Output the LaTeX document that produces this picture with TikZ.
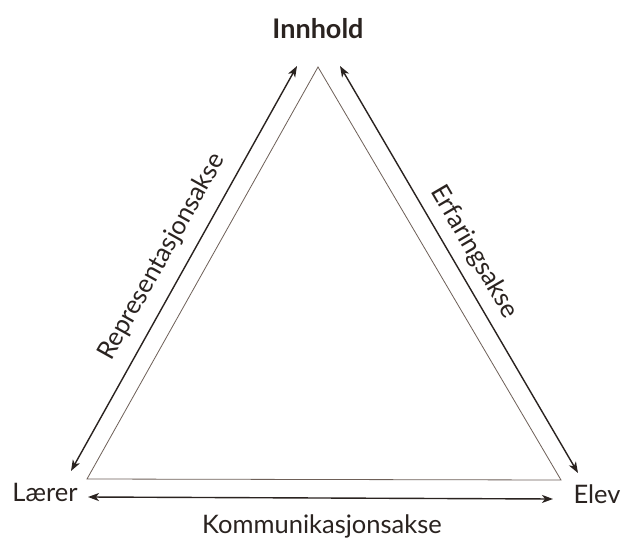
\documentclass[tikz,border=0pt]{standalone}
\usepackage{fontspec}
\setmainfont{Lato}
\usetikzlibrary{arrows.meta}
\definecolor{ink}{HTML}{2A2320}
\definecolor{tri}{HTML}{6E6058}
\begin{document}
\begin{tikzpicture}[x=1pt,y=-1pt,
  lbl/.style={text=ink,inner sep=0pt,font=\fontsize{25.5}{28}\selectfont},
  axis/.style={draw=ink,line width=1.4pt,{Stealth[length=11pt,width=8pt,inset=3pt]}-{Stealth[length=11pt,width=8pt,inset=3pt]}},
  triline/.style={draw=tri,line width=0.8pt}]
\useasboundingbox (0,0) rectangle (622,541);
\fill[white] (0,0) rectangle (622,541);
% triangle
\coordinate (T) at (318,67);
\coordinate (L) at (87,479);
\coordinate (R) at (561,480);
\draw[triline] (T) -- (L) -- (R) -- cycle;
% axis end points
\coordinate (la) at (297,66);
\coordinate (lb) at (71,471);
\coordinate (ra) at (340,66);
\coordinate (rb) at (578,473);
\coordinate (ba) at (88,497);
\coordinate (bb) at (553,499);
\draw[axis] (la) -- (lb);
\draw[axis] (ra) -- (rb);
\draw[axis] (ba) -- (bb);
% labels
\node[lbl,font=\fontsize{27}{30}\selectfont\bfseries] (inn) at (318,29) {Innhold};
\node[lbl] (lar) at (45,492) {Lærer};
\node[lbl] (elev) at (597,494) {Elev};
\node[lbl] (kom) at (322,526) {Kommunikasjonsakse};
\node[lbl,rotate=60.7] (rep) at (162,257) {Representasjonsakse};
\node[lbl,rotate=-59.7] (erf) at (474,252) {Erfaringsakse};
\end{tikzpicture}
\end{document}
